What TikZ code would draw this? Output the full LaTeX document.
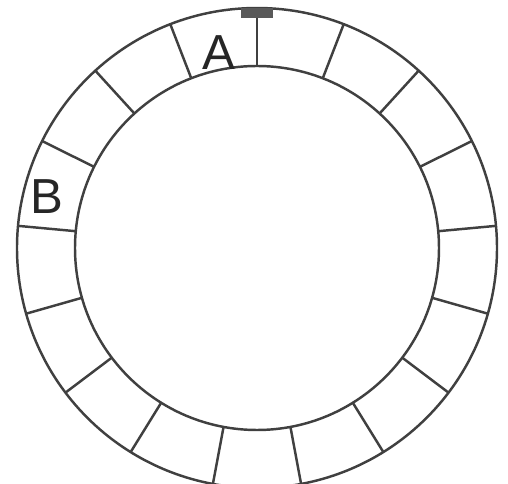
\documentclass[tikz,border=0pt]{standalone}
\usepackage{fontspec}
\setmainfont{Liberation Sans}
\usetikzlibrary{calc}
\tikzstyle{ring} = [line width=1.4pt, draw=black!75]
\tikzstyle{spoke} = [line width=1.4pt, draw=black!75]
\tikzstyle{letter} = [font=\fontsize{28}{30}\selectfont, text=black!85, inner sep=0pt]

\begin{document}
\begin{tikzpicture}[x=0.02cm, y=0.02cm]
  \useasboundingbox (0,0) rectangle (508,484);
  \coordinate (c) at (257,236);

  % Vòng ngoài và vòng trong
  \draw[ring] (c) circle (240);
  \draw[ring] (c) circle (182);

  % Các vách chia (17 ô)
  \foreach \i [evaluate=\i as \a using 90-\i*360/17] in {0,...,16}
    \draw[spoke] ($(c)+(\a:182)$) -- ($(c)+(\a:240)$);

  % Dấu trên đỉnh
  \fill[black!65] (241,466) rectangle (273,476);

  % Nhãn
  \node[letter] (A) at (219,431) {A};
  \node[letter] (B) at (47,287) {B};
\end{tikzpicture}
\end{document}
